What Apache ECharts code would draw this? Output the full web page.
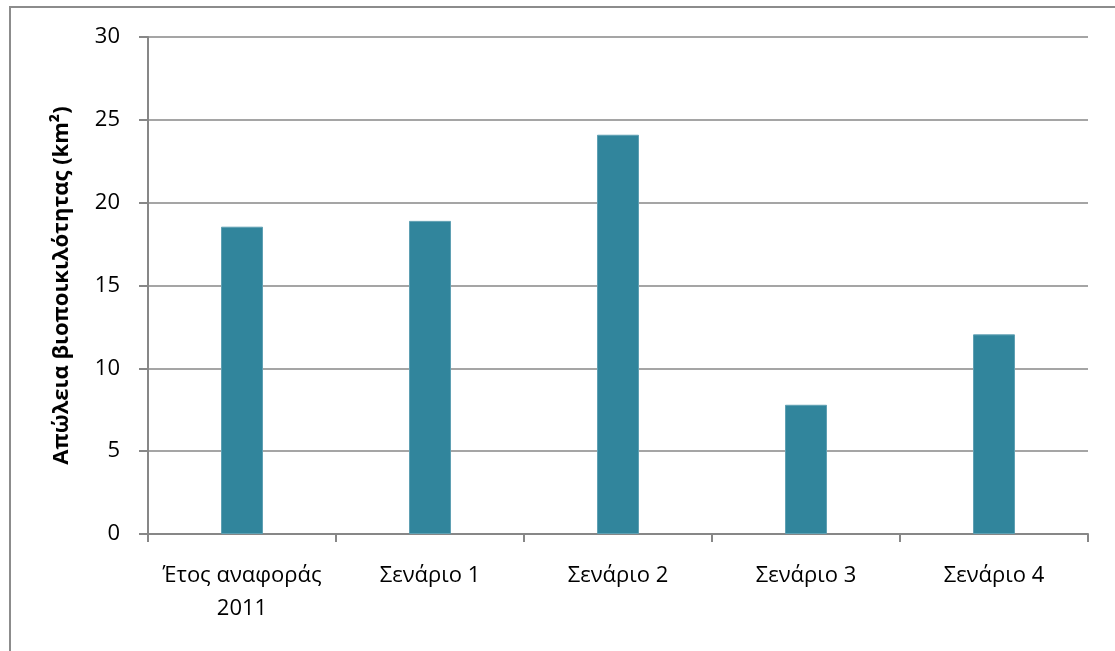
<!DOCTYPE html>
<html>
<head>
<meta charset="utf-8">
<script src="https://cdn.jsdelivr.net/npm/echarts@6/dist/echarts.min.js"></script>
<style>
html, body { margin: 0; padding: 0; background: #fff; overflow: hidden; }
#frame { position: absolute; left: 9px; top: 6px; width: 1200px; height: 700px; border-left: 2px solid #8c8c8c; border-top: 2px solid #8c8c8c; }
#chart { position: absolute; left: 0; top: 0; width: 1115px; height: 651px; }
</style>
</head>
<body>
<div id="frame"></div>
<div id="chart"></div>
<script type="text/javascript">
var categories = ['Έτος αναφοράς\n2011', 'Σενάριο 1', 'Σενάριο 2', 'Σενάριο 3', 'Σενάριο 4'];
var lossValues = [18.55, 18.9, 24.1, 7.8, 12.05];
var yTitle = 'Απώλεια βιοποικιλότητας (km²)';

var font = '"Open Sans", "Noto Sans", sans-serif';
var lineColor = '#878787';

var option = {
	animation: false,
	grid: {
		left: 148,
		right: 27,
		top: 37,
		bottom: 117
	},
	xAxis: {
		type: 'category',
		data: categories,
		axisLine: { lineStyle: { color: lineColor, width: 2 } },
		axisTick: { show: true, alignWithLabel: false, length: 8, lineStyle: { color: lineColor, width: 2 } },
		axisLabel: {
			color: '#000',
			fontFamily: font,
			fontSize: 22,
			lineHeight: 33,
			margin: 25,
			interval: 0
		}
	},
	yAxis: {
		type: 'value',
		min: 0,
		max: 30,
		interval: 5,
		name: yTitle,
		nameLocation: 'middle',
		nameGap: 75,
		nameRotate: 90,
		nameTextStyle: {
			color: '#000',
			fontFamily: font,
			fontSize: 22,
			fontWeight: 'bold'
		},
		axisLine: { show: true, lineStyle: { color: lineColor, width: 2 } },
		axisTick: { show: true, length: 9, lineStyle: { color: lineColor, width: 2 } },
		axisLabel: {
			color: '#000',
			fontFamily: font,
			fontSize: 22,
			margin: 28
		},
		splitLine: { show: true, lineStyle: { color: lineColor, width: 1.5 } }
	},
	series: [{
		type: 'bar',
		data: lossValues,
		barWidth: 42,
		itemStyle: {
			color: '#31859c',
			borderColor: '#5fa0b3',
			borderWidth: 1
		}
	}]
};

var myChart = echarts.init(document.getElementById('chart'));
myChart.setOption(option);
</script>
</body>
</html>
